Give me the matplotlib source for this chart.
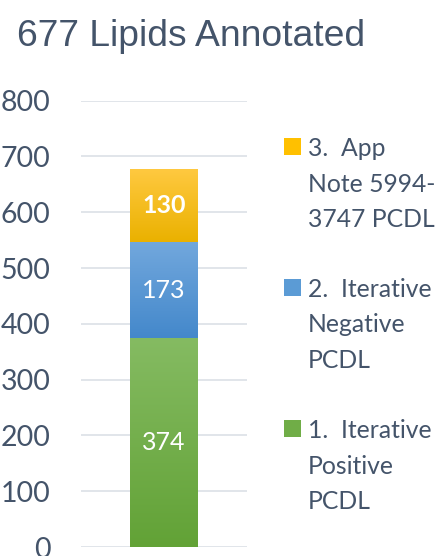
import numpy as np
import matplotlib
matplotlib.use("Agg")
import matplotlib.pyplot as plt
from matplotlib.colors import LinearSegmentedColormap
from matplotlib.patches import Rectangle

# ---- data ----
title = "677 Lipids Annotated"
category = [""]
series_names = [["1.  Iterative", "Positive", "PCDL"],
                ["2.  Iterative", "Negative", "PCDL"],
                ["3.  App", "Note 5994-", "3747 PCDL"]]
values = [374, 173, 130]
value_bold = [False, False, True]
yticks = [0, 100, 200, 300, 400, 500, 600, 700, 800]

# ---- styles ----
grad_top = ["#85BB62", "#72A8DD", "#FFC940"]
grad_bot = ["#62A236", "#4488CB", "#EAB100"]
solid = ["#70AD47", "#5B9BD5", "#FFC000"]
text_col = "#44546A"
grid_col = "#D9DEE4"

W, H = 448, 556
fig = plt.figure(figsize=(W / 100, H / 100), dpi=100)
ax = fig.add_axes([81 / W, 1 - 547 / H, 166 / W, 446.3 / H])
ax.set_xlim(-0.5, 0.5)
ax.set_ylim(0, 800)

bottom = 0
bars = []
for i, v in enumerate(values):
    b = ax.bar(0, v, width=68 / 166, bottom=bottom, color=solid[i], zorder=3)[0]
    bars.append(b)
    cmap = LinearSegmentedColormap.from_list(f"g{i}", [grad_bot[i], grad_top[i]])
    grad = np.linspace(0, 1, 256).reshape(-1, 1)
    im = ax.imshow(grad, cmap=cmap, origin="lower", aspect="auto",
                   extent=[b.get_x(), b.get_x() + b.get_width(), bottom, bottom + v],
                   zorder=4)
    im.set_clip_path(b)
    ax.text(0, bottom + v / 2, str(v), ha="center", va="center", color="white",
            fontsize=18, family="Lato", fontweight="bold" if value_bold[i] else "normal",
            zorder=5)
    bottom += v
ax.set_xlim(-0.5, 0.5)
ax.set_ylim(0, 800)

ax.set_yticks(yticks)
ax.set_yticklabels([str(t) for t in yticks], fontsize=20.5, family="Lato", color=text_col)
ax.tick_params(axis="y", length=0, pad=22)
ax.set_xticks([])
ax.yaxis.grid(True, color=grid_col, linewidth=1.1, zorder=0)
ax.set_axisbelow(True)
for s in ax.spines.values():
    s.set_visible(False)

fig.text(17 / W, 1 - 46.5 / H, title, fontsize=26.8, family="Liberation Sans",
         color=text_col, ha="left", va="baseline")

# ---- legend (manual, top entry = last series) ----
first_base = [438, 297, 156]
line_gap = 35.5
for i in range(len(values)):
    yb = first_base[i]
    fig.patches.append(Rectangle((284 / W, 1 - 155 / H - (yb - 156) / H), 16.5 / W, 17 / H,
                                 transform=fig.transFigure, facecolor=solid[i],
                                 edgecolor="none"))
    for j, line in enumerate(series_names[i]):
        fig.text(308 / W, 1 - (yb + j * line_gap) / H, line, fontsize=17.8, family="Lato",
                 color=text_col, ha="left", va="baseline")

fig.savefig("out.png", dpi=100)
